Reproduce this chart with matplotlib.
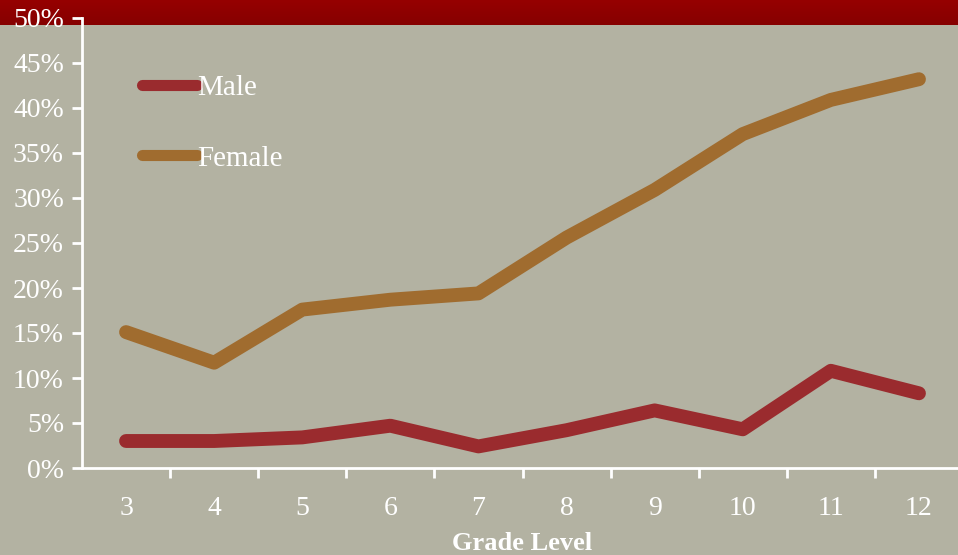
import matplotlib
matplotlib.use("Agg")
import matplotlib.pyplot as plt
import numpy as np
from matplotlib.colors import LinearSegmentedColormap

grades = ["3", "4", "5", "6", "7", "8", "9", "10", "11", "12"]
male = [3.0, 3.0, 3.4, 4.7, 2.4, 4.2, 6.4, 4.3, 10.8, 8.3]
female = [15.1, 11.7, 17.6, 18.7, 19.4, 25.6, 30.9, 37.1, 40.9, 43.2]
y_ticks = [0, 5, 10, 15, 20, 25, 30, 35, 40, 45, 50]

plt.rcParams['font.family'] = ['Liberation Serif', 'DejaVu Serif']

W, H = 958, 555
fig = plt.figure(figsize=(W / 100, H / 100), dpi=100)
fig.patch.set_facecolor('#b3b2a2')

# red band at top
band = fig.add_axes([0, 1 - 25 / H, 1, 25 / H])
grad = np.linspace(0, 1, 50).reshape(-1, 1)
cmap = LinearSegmentedColormap.from_list('b', ['#960000', '#860000'])
band.imshow(grad, aspect='auto', cmap=cmap, extent=[0, 1, 0, 1])
band.axis('off')

ax = fig.add_axes([82 / W, (H - 468) / H, (963 - 82) / W, 450 / H])
ax.patch.set_alpha(0)
x = np.arange(len(grades))
ax.plot(x, male, color='#9a2b2e', lw=10, solid_capstyle='round', solid_joinstyle='round', label='Male')
ax.plot(x, female, color='#a06c2f', lw=10, solid_capstyle='round', solid_joinstyle='round', label='Female')

ax.set_xlim(-0.5, len(grades) - 0.5)
ax.set_ylim(0, 50)
ax.set_yticks(y_ticks)
ax.set_yticklabels([f"{v}%" for v in y_ticks])
ax.set_xticks(x)
ax.set_xticklabels(grades)
ax.set_xticks(np.arange(len(grades)) + 0.5, minor=True)
ax.tick_params(axis='x', which='major', length=0, pad=20, labelsize=20, colors='white')
ax.tick_params(axis='x', which='minor', length=7, width=2, color='white', direction='out')
ax.tick_params(axis='y', length=7, width=2, color='white', labelsize=20, labelcolor='white', pad=6)
for s in ['top', 'right']:
    ax.spines[s].set_visible(False)
for s in ['left', 'bottom']:
    ax.spines[s].set_color('white')
    ax.spines[s].set_linewidth(2)
ax.set_xlabel('Grade Level', fontsize=19, fontweight='bold', color='white', labelpad=8)

leg = ax.legend(loc='upper left', bbox_to_anchor=(60 / 881, 1 - 57 / 450), frameon=False,
                fontsize=21, handlelength=1.9, handletextpad=0.0, labelspacing=1.5,
                borderaxespad=0, borderpad=0)
for t in leg.get_texts():
    t.set_color('white')
for l in leg.get_lines():
    l.set_linewidth(8)

fig.savefig('out.png', dpi=100, facecolor=fig.get_facecolor())
